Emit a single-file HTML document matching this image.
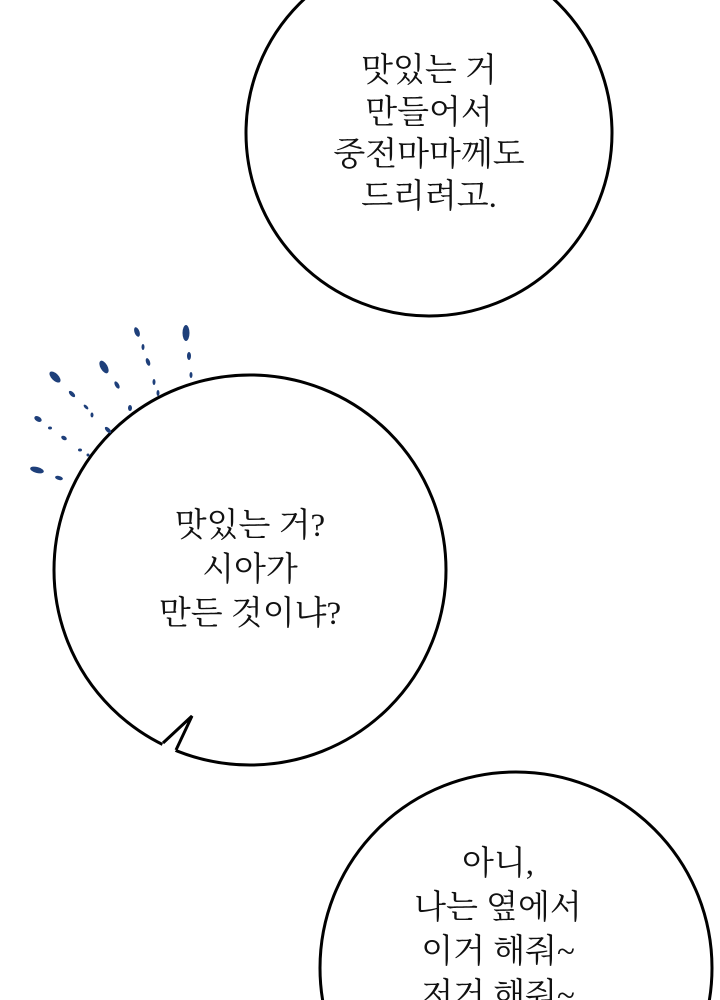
<!DOCTYPE html>
<html><head><meta charset="utf-8"><style>
html,body{margin:0;width:720px;height:1000px;overflow:hidden;background:#fff}
body{position:relative}
svg{position:absolute;left:0;top:0}
.t{position:absolute;text-align:center;font-family:"Liberation Serif","Noto Serif CJK SC","Noto Sans CJK KR",serif;font-size:33px;line-height:42px;color:#111;width:360px}
</style></head><body>
<svg width="720" height="1000" viewBox="0 0 720 1000">
<ellipse cx="429" cy="133" rx="183" ry="183" fill="#fff" stroke="#000" stroke-width="3"/>
<ellipse cx="250" cy="570" rx="196" ry="195" fill="#fff" stroke="#000" stroke-width="3"/>
<polygon points="163,743 192,716 176,750 172,756 160,750" fill="#fff"/>
<polyline points="163,743 192,716 176,750" fill="none" stroke="#000" stroke-width="3" stroke-linejoin="miter"/>
<ellipse cx="516" cy="968" rx="196" ry="196" fill="#fff" stroke="#000" stroke-width="3"/>
<g fill="#1e3f7a">
<ellipse cx="186" cy="333" rx="3.5" ry="8"/><ellipse cx="189" cy="356" rx="2" ry="4"/><ellipse cx="191" cy="375" rx="1.5" ry="3"/>
<ellipse cx="137" cy="332" rx="2.5" ry="5" transform="rotate(-20 137 332)"/><ellipse cx="143" cy="347" rx="1.5" ry="3"/><ellipse cx="148" cy="362" rx="2" ry="4" transform="rotate(-20 148 362)"/><ellipse cx="154" cy="382" rx="1.5" ry="3"/><ellipse cx="158" cy="393" rx="1.5" ry="3"/>
<ellipse cx="104" cy="367" rx="3.5" ry="7" transform="rotate(-30 104 367)"/><ellipse cx="117" cy="385" rx="2" ry="4" transform="rotate(-30 117 385)"/><ellipse cx="130" cy="408" rx="2" ry="3"/>
<ellipse cx="55" cy="377" rx="3.5" ry="7" transform="rotate(-45 55 377)"/><ellipse cx="72" cy="394" rx="2" ry="4" transform="rotate(-45 72 394)"/><ellipse cx="86" cy="407" rx="1.5" ry="3" transform="rotate(-45 86 407)"/><ellipse cx="92" cy="415" rx="1.5" ry="2.5"/><ellipse cx="108" cy="430" rx="2" ry="4" transform="rotate(-45 108 430)"/>
<ellipse cx="38" cy="419" rx="4" ry="2.5" transform="rotate(30 38 419)"/><ellipse cx="50" cy="428" rx="2" ry="1.5"/><ellipse cx="64" cy="438" rx="3" ry="2" transform="rotate(30 64 438)"/><ellipse cx="80" cy="450" rx="2" ry="1.5"/><ellipse cx="88" cy="455" rx="1.5" ry="1.5"/>
<ellipse cx="37" cy="470" rx="7" ry="3" transform="rotate(15 37 470)"/><ellipse cx="59" cy="478" rx="4" ry="2" transform="rotate(15 59 478)"/>
</g>
</svg>
<div class="t" style="left:249px;top:50px">맛있는 거<br>만들어서<br>중전마마께도<br>드리려고.</div>
<div class="t" style="left:70px;top:504px;line-height:44px">맛있는 거?<br>시아가<br>만든 것이냐?</div>
<div class="t" style="left:318px;top:842px;line-height:44px">아니,<br>나는 옆에서<br>이거 해줘~<br>저거 해줘~</div>
</body></html>
